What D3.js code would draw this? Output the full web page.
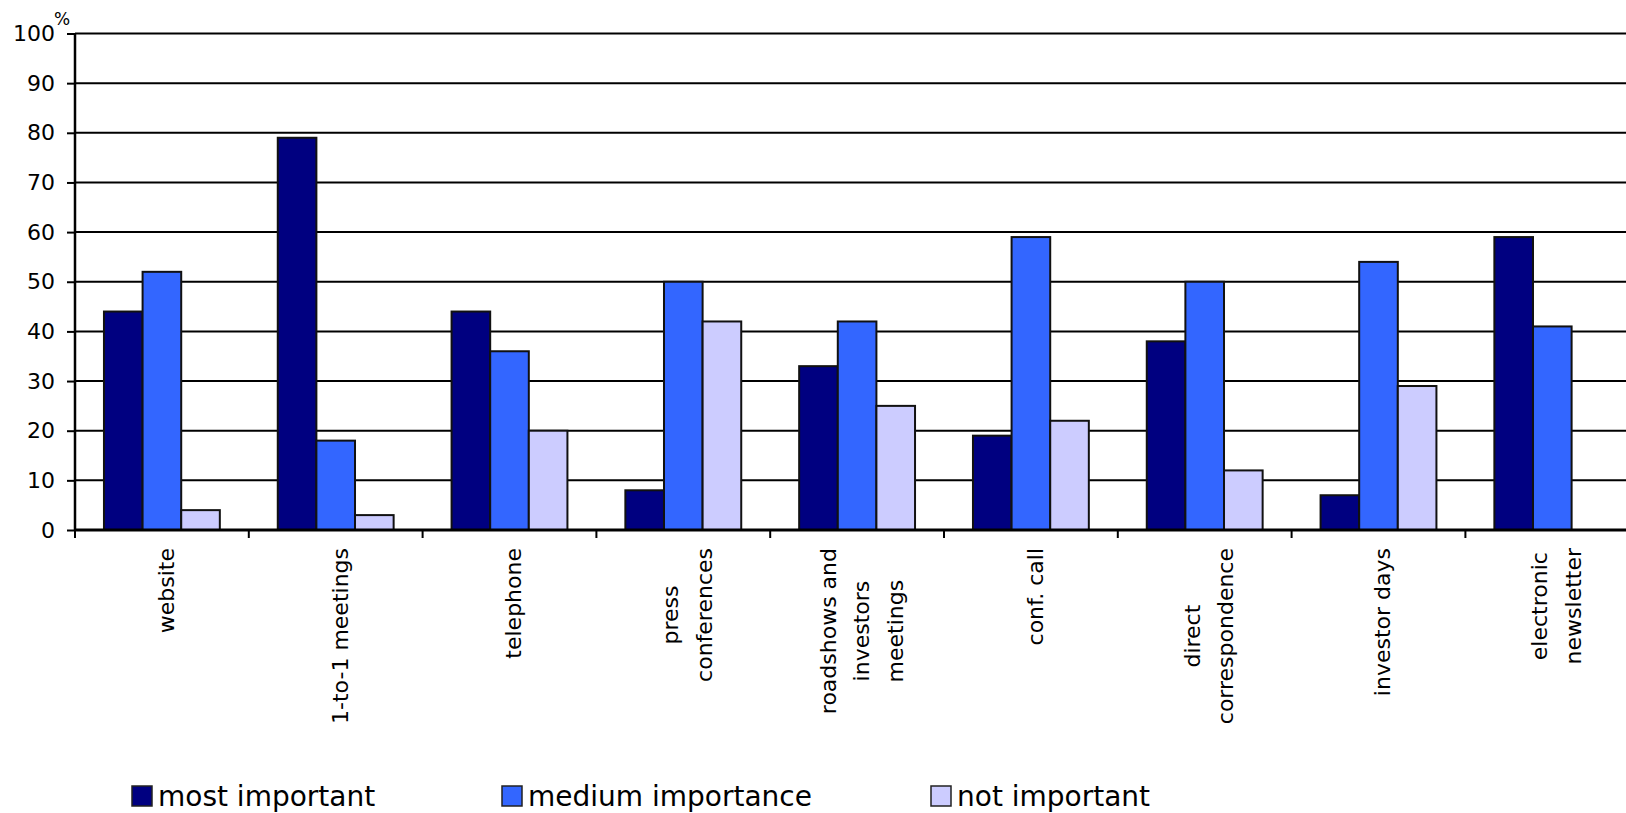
<!DOCTYPE html>
<html>
<head>
<meta charset="utf-8">
<script src="https://cdn.jsdelivr.net/npm/d3@7"></script>
<style>
  html, body { margin: 0; padding: 0; background: #fff; overflow: hidden; }
  svg { display: block; font-family: "DejaVu Sans", Verdana, sans-serif; }
</style>
</head>
<body>
<svg id="chart" width="1626" height="813"></svg>
<script>
const categories = [
  "website",
  "1-to-1 meetings",
  "telephone",
  "press\nconferences",
  "roadshows and\ninvestors\nmeetings",
  "conf. call",
  "direct\ncorrespondence",
  "investor days",
  "electronic\nnewsletter"
];
const seriesNames = ["most important", "medium importance", "not important"];
const mostImportant    = [44, 79, 44,  8, 33, 19, 38,  7, 59];
const mediumImportance = [52, 18, 36, 50, 42, 59, 50, 54, 41];
const notImportant     = [ 4,  3, 20, 42, 25, 22, 12, 29, null];
const yTicks = [0, 10, 20, 30, 40, 50, 60, 70, 80, 90, 100];
const colors = ["#000080", "#3366FF", "#CCCCFF"];

const series = [mostImportant, mediumImportance, notImportant];

const svg = d3.select("#chart");
const plotLeft = 75, plotTop = 33.5, plotBottom = 530;
const bandW = 173.8;
const plotRight = plotLeft + bandW * categories.length;

const x = d3.scaleBand().domain(categories).range([plotLeft, plotRight]).paddingInner(0).paddingOuter(0);
// Excel gap width 150%: 3 bars + 1.5 bar gap
const barW = x.bandwidth() / 4.5;
const groupOffset = barW * 0.75;

const y = d3.scaleLinear().domain([0, 100]).range([plotBottom, plotTop]);

// gridlines
svg.append("g")
  .selectAll("line")
  .data(yTicks.filter(d => d > 0))
  .join("line")
  .attr("x1", plotLeft).attr("x2", plotRight)
  .attr("y1", d => y(d)).attr("y2", d => y(d))
  .attr("stroke", "#000").attr("stroke-width", 2);

// bars
const groups = svg.append("g")
  .selectAll("g")
  .data(categories)
  .join("g")
  .attr("transform", d => `translate(${x(d) + groupOffset},0)`);

groups.selectAll("rect")
  .data((c, i) => series.map((s, k) => ({ k, v: s[i] })).filter(d => d.v !== null))
  .join("rect")
  .attr("x", d => d.k * barW)
  .attr("width", barW)
  .attr("y", d => y(d.v))
  .attr("height", d => y(0) - y(d.v))
  .attr("fill", d => colors[d.k])
  .attr("stroke", "#111")
  .attr("stroke-width", 2);

// y axis
const yAxis = svg.append("g")
  .attr("transform", `translate(${plotLeft},0)`)
  .call(d3.axisLeft(y).tickValues(yTicks).tickSize(8).tickPadding(12));
yAxis.select(".domain").attr("stroke", "#000").attr("stroke-width", 2.5)
  .attr("d", `M0,${plotTop}V${plotBottom}`);
yAxis.selectAll(".tick line").attr("stroke", "#000").attr("stroke-width", 2);
yAxis.selectAll(".tick text")
  .attr("fill", "#000")
  .style("font-size", "22px")
  .style("font-family", "'DejaVu Sans', Verdana, sans-serif");

// x axis
const xAxis = svg.append("g")
  .attr("transform", `translate(0,${plotBottom})`);
xAxis.append("line")
  .attr("x1", plotLeft).attr("x2", plotRight)
  .attr("y1", 0).attr("y2", 0)
  .attr("stroke", "#000").attr("stroke-width", 3);
xAxis.selectAll("line.tk")
  .data(d3.range(categories.length + 1))
  .join("line")
  .attr("class", "tk")
  .attr("x1", i => plotLeft + i * x.bandwidth())
  .attr("x2", i => plotLeft + i * x.bandwidth())
  .attr("y1", 0).attr("y2", 8)
  .attr("stroke", "#000").attr("stroke-width", 2);

// category labels (rotated, multi-line, centered)
const labelTop = 548;
const lineGap = 33.5;
const labels = svg.append("g");
categories.forEach(c => {
  const lines = c.split("\n");
  const cx = x(c) + x.bandwidth() / 2 + 4;
  const g = labels.append("g");
  const t = g.append("text")
    .attr("text-anchor", "middle")
    .style("font-size", "22px")
    .attr("fill", "#000");
  lines.forEach((ln, i) => {
    t.append("tspan")
      .attr("x", 0)
      .attr("y", (i - (lines.length - 1) / 2) * lineGap)
      .attr("dy", "0.36em")
      .text(ln);
  });
  const maxLen = d3.max(t.selectAll("tspan").nodes(), n => n.getComputedTextLength());
  g.attr("transform", `translate(${cx},${labelTop + maxLen / 2}) rotate(-90)`);
});

// % unit label
svg.append("text")
  .attr("x", 54).attr("y", 25)
  .style("font-size", "17px")
  .attr("fill", "#000")
  .text("%");

// legend
const legendX = [132, 502, 931];
const legend = svg.append("g");
seriesNames.forEach((n, i) => {
  legend.append("rect")
    .attr("x", legendX[i]).attr("y", 786)
    .attr("width", 20).attr("height", 20)
    .attr("fill", colors[i])
    .attr("stroke", "#222").attr("stroke-width", 1.5);
  legend.append("text")
    .attr("x", legendX[i] + 26).attr("y", 806)
    .style("font-size", "28px")
    .attr("fill", "#000")
    .text(n);
});
</script>
</body>
</html>
